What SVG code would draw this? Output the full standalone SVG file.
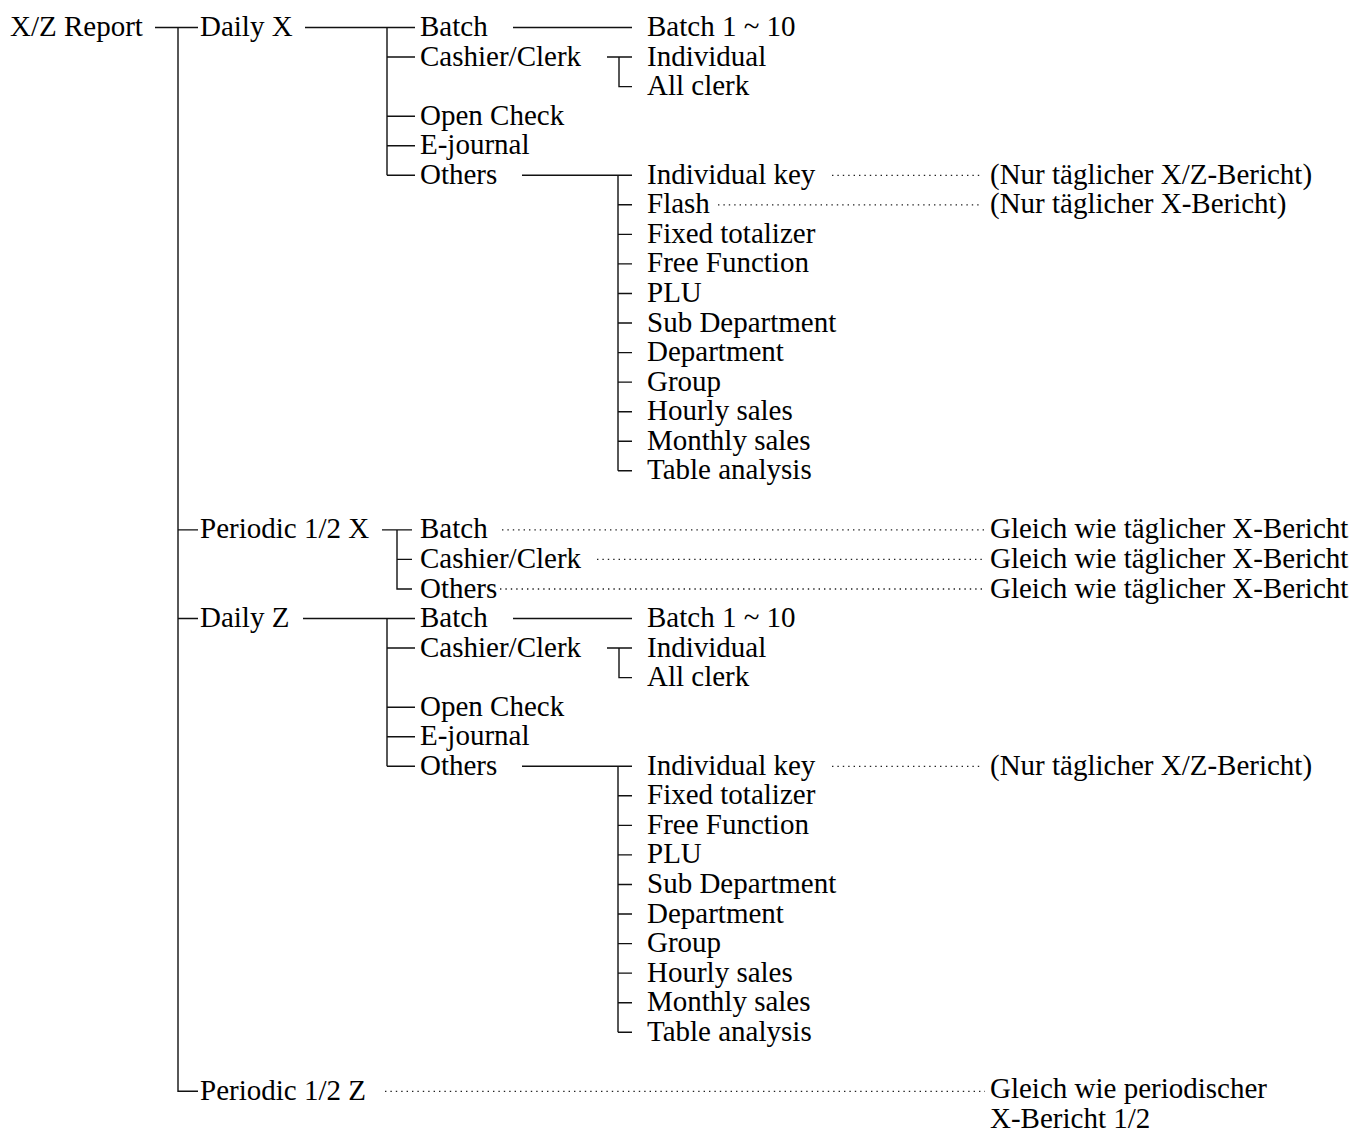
<svg xmlns="http://www.w3.org/2000/svg" width="1369" height="1131" viewBox="0 0 1369 1131" font-family="'Liberation Serif', 'Times New Roman', 'DejaVu Serif', serif">
<style>
text{font-family:'Liberation Serif','Times New Roman','DejaVu Serif',serif;font-size:29px;fill:#000}
.ln{stroke:#111;stroke-width:1.4;fill:none}
.dt{stroke:#222;stroke-width:1.3;fill:none;stroke-dasharray:1.4 4}
</style>
<rect width="1369" height="1131" fill="#fff"/>
<g id="connectors">
<path class="ln" d="M155 27.5H198M178 27.5V1091.3H198M178 529.9H198M178 618.5H198"/>
<path class="ln" d="M305 27.5H415M387 27.5V175.3M387 57H415M387 116.2H415M387 145.7H415M387 175.3H415"/>
<path class="ln" d="M513 27.5H632M607 57H632M619 57V86.6H632"/>
<path class="ln" d="M522 175.3H632M618 175.3V470.8M618 204.8H632M618 234.4H632M618 263.9H632M618 293.5H632M618 323H632M618 352.6H632M618 382.1H632M618 411.7H632M618 441.2H632M618 470.8H632"/>
<path class="dt" d="M832 175.3H982M718 204.8H982"/>
<path class="ln" d="M382 529.9H412M397 529.9V589H412M397 559.4H412"/>
<path class="dt" d="M502 529.9H985M597 559.4H985M500 589H985"/>
<path class="ln" d="M303 618.5H415M387 618.5V766.3M387 648H415M387 707.2H415M387 736.7H415M387 766.3H415"/>
<path class="ln" d="M513 618.5H632M607 648H632M619 648V677.6H632"/>
<path class="ln" d="M522 766.3H632M618 766.3V1032.2M618 795.8H632M618 825.4H632M618 854.9H632M618 884.5H632M618 914H632M618 943.6H632M618 973.1H632M618 1002.7H632M618 1032.2H632"/>
<path class="dt" d="M832 766.3H982"/>
<path class="dt" d="M385 1091.3H985"/>
</g>
<g id="root"><text x="10" y="36">X/Z Report</text></g>
<g id="daily-x">
<text x="200" y="36">Daily X</text>
<g id="dx-batch"><text x="420" y="36">Batch</text><text x="647" y="36">Batch 1 ~ 10</text></g>
<g id="dx-cashier"><text x="420" y="65.5">Cashier/Clerk</text><text x="647" y="65.5">Individual</text><text x="647" y="95">All clerk</text></g>
<g id="dx-open"><text x="420" y="124.6">Open Check</text></g>
<g id="dx-ej"><text x="420" y="154.2">E-journal</text></g>
<g id="dx-others">
<text x="420" y="183.7">Others</text>
<text x="647" y="183.7">Individual key</text>
<text x="990" y="183.7">(Nur täglicher X/Z-Bericht)</text>
<text x="647" y="213.3">Flash</text>
<text x="990" y="213.3">(Nur täglicher X-Bericht)</text>
<text x="647" y="242.8">Fixed totalizer</text>
<text x="647" y="272.4">Free Function</text>
<text x="647" y="301.9">PLU</text>
<text x="647" y="331.5">Sub Department</text>
<text x="647" y="361">Department</text>
<text x="647" y="390.6">Group</text>
<text x="647" y="420.1">Hourly sales</text>
<text x="647" y="449.7">Monthly sales</text>
<text x="647" y="479.2">Table analysis</text>
</g>
</g>
<g id="periodic-x">
<text x="200" y="538.4">Periodic 1/2 X</text>
<text x="420" y="538.4">Batch</text>
<text x="990" y="538.4">Gleich wie täglicher X-Bericht</text>
<text x="420" y="567.9">Cashier/Clerk</text>
<text x="990" y="567.9">Gleich wie täglicher X-Bericht</text>
<text x="420" y="597.5">Others</text>
<text x="990" y="597.5">Gleich wie täglicher X-Bericht</text>
</g>
<g id="daily-z">
<text x="200" y="627">Daily Z</text>
<g id="dz-batch"><text x="420" y="627">Batch</text><text x="647" y="627">Batch 1 ~ 10</text></g>
<g id="dz-cashier"><text x="420" y="656.5">Cashier/Clerk</text><text x="647" y="656.5">Individual</text><text x="647" y="686.1">All clerk</text></g>
<g id="dz-open"><text x="420" y="715.6">Open Check</text></g>
<g id="dz-ej"><text x="420" y="745.2">E-journal</text></g>
<g id="dz-others">
<text x="420" y="774.7">Others</text>
<text x="647" y="774.7">Individual key</text>
<text x="990" y="774.7">(Nur täglicher X/Z-Bericht)</text>
<text x="647" y="804.3">Fixed totalizer</text>
<text x="647" y="833.8">Free Function</text>
<text x="647" y="863.4">PLU</text>
<text x="647" y="892.9">Sub Department</text>
<text x="647" y="922.5">Department</text>
<text x="647" y="952">Group</text>
<text x="647" y="981.6">Hourly sales</text>
<text x="647" y="1011.1">Monthly sales</text>
<text x="647" y="1040.7">Table analysis</text>
</g>
</g>
<g id="periodic-z">
<text x="200" y="1099.8">Periodic 1/2 Z</text>
<text x="990" y="1098.3">Gleich wie periodischer</text>
<text x="990" y="1127.6">X-Bericht 1/2</text>
</g>
</svg>
